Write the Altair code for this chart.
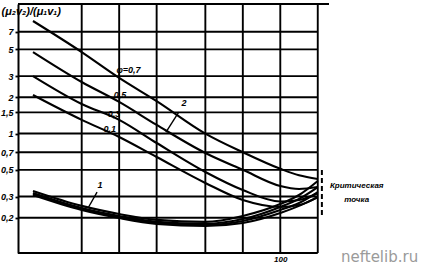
import altair as alt
import pandas as pd

# ---- data ----
x_samples = [34, 47, 57, 67, 80, 90, 100, 105, 110]

# group 2 (upper curves), phi = 0.7, 0.5, 0.3, 0.1
c2_07 = [8.6, 4.75, 2.9, 1.86, 1.0, 0.70, 0.51, 0.45, 0.42]
c2_05 = [4.75, 2.68, 1.83, 1.18, 0.69, 0.50, 0.367, 0.347, 0.36]
c2_03 = [3.0, 1.76, 1.30, 0.835, 0.48, 0.34, 0.273, 0.281, 0.32]
c2_01 = [2.09, 1.30, 0.937, 0.639, 0.389, 0.281, 0.246, 0.255, 0.297]

# group 1 (lower curves)
c1_07 = [0.334, 0.251, 0.215, 0.192, 0.185, 0.207, 0.260, 0.309, 0.404]
c1_05 = [0.321, 0.241, 0.207, 0.185, 0.178, 0.195, 0.246, 0.287, 0.360]
c1_03 = [0.315, 0.237, 0.203, 0.181, 0.174, 0.188, 0.232, 0.265, 0.327]
c1_01 = [0.309, 0.232, 0.199, 0.178, 0.171, 0.181, 0.219, 0.251, 0.297]

y_ticks = [0.2, 0.3, 0.5, 0.7, 1, 1.5, 2, 3, 5, 7]
x_grid = [47, 57, 67, 80, 90, 100, 110]
x_label_values = [100]

X_MIN, X_MAX, X_GRID_END = 30, 113, 110
Y_MIN, Y_MAX = 0.102, 11.9

phi_labels = ["φ=0,7", "0,5", "0,3", "0,1"]
phi_label_x = [59.5, 57.2, 55.6, 54.5]
phi_label_y = [3.37, 2.09, 1.45, 1.09]

group_labels = ["2", "1"]
group_label_x = [74.3, 51.9]
group_label_y = [1.79, 0.374]
leader_x = [72.9, 51.1]
leader_y = [1.51, 0.327]
leader_x2 = [69.5, 48.7]
leader_y2 = [1.03, 0.241]

crit_x = 111.1
crit_y_lo, crit_y_hi = 0.211, 0.518
crit_text = ["Критическая", "точка"]
crit_text_x = [120.4, 120.4]
crit_text_y = [0.367, 0.281]

title_text = "(μ₂v₂)/(μ₁v₁)"
title_x, title_y = 25.6, 10.2

watermark = "neftelib.ru"
wm_x, wm_y = 126.5, 0.094

# ---- build tables ----
curves = {
    "g2_07": c2_07, "g2_05": c2_05, "g2_03": c2_03, "g2_01": c2_01,
    "g1_07": c1_07, "g1_05": c1_05, "g1_03": c1_03, "g1_01": c1_01,
}
rows = []
for name, ys in curves.items():
    for xv, yv in zip(x_samples, ys):
        rows.append({"curve": name, "x": xv, "y": yv})
df_curves = pd.DataFrame(rows)

FONT = "Liberation Sans"

xscale = alt.Scale(domain=[X_MIN, X_MAX], nice=False, zero=False)
yscale = alt.Scale(type="log", domain=[Y_MIN, Y_MAX], nice=False)

xaxis = alt.Axis(values=x_label_values, title="", ticks=False, domain=False,
                 grid=False, labelPadding=2, labelFontSize=8, labelFont=FONT,
                 labelFontStyle="italic", labelFontWeight="bold", labelColor="black")
yaxis = alt.Axis(values=y_ticks, title="", grid=False, tickSize=3,
                 tickWidth=1.8, tickColor="black", domainWidth=2,
                 domainColor="black", labelPadding=2, labelFontSize=9, labelFont=FONT,
                 labelFontStyle="italic", labelFontWeight="bold", labelColor="black",
                 labelExpr="replace(toString(datum.value), '.', ',')")


def X(field):
    return alt.X(field, scale=xscale, axis=xaxis)


def Y(field):
    return alt.Y(field, scale=yscale, axis=yaxis)


lines = alt.Chart(df_curves).mark_line(
    interpolate="monotone", color="black", strokeWidth=2.1
).encode(x=X("x:Q"), y=Y("y:Q"), detail="curve:N")

hgrid = alt.Chart(pd.DataFrame({"v": y_ticks, "a": X_MIN, "b": X_GRID_END})).mark_rule(
    color="black", strokeWidth=1.9
).encode(y=Y("v:Q"), x=X("a:Q"), x2="b:Q")

vgrid = alt.Chart(pd.DataFrame({"v": x_grid, "a": Y_MIN, "b": Y_MAX})).mark_rule(
    color="black", strokeWidth=1.9
).encode(x=X("v:Q"), y=Y("a:Q"), y2="b:Q")

borders = alt.Chart(pd.DataFrame({
    "x": [X_MIN, X_MIN], "x2": [X_MAX, X_GRID_END], "y": [Y_MAX, Y_MIN]
})).mark_rule(color="black", strokeWidth=2).encode(
    x=X("x:Q"), x2="x2:Q", y=Y("y:Q"))

txt_kw = dict(font=FONT, fontStyle="italic", fontWeight="bold",
              align="center", baseline="middle", color="black")

phi_txt = alt.Chart(pd.DataFrame({
    "t": phi_labels, "x": phi_label_x, "y": phi_label_y
})).mark_text(fontSize=9, **txt_kw).encode(x=X("x:Q"), y=Y("y:Q"), text="t:N")

grp_txt = alt.Chart(pd.DataFrame({
    "t": group_labels, "x": group_label_x, "y": group_label_y
})).mark_text(fontSize=9, **txt_kw).encode(x=X("x:Q"), y=Y("y:Q"), text="t:N")

leaders = alt.Chart(pd.DataFrame({
    "x": leader_x, "y": leader_y, "x2": leader_x2, "y2": leader_y2
})).mark_rule(color="black", strokeWidth=1.4).encode(
    x=X("x:Q"), x2="x2:Q", y=Y("y:Q"), y2="y2:Q")

crit_line = alt.Chart(pd.DataFrame({"x": [crit_x], "y": [crit_y_lo], "y2": [crit_y_hi]})).mark_rule(
    color="black", strokeWidth=2, strokeDash=[5, 3]
).encode(x=X("x:Q"), y=Y("y:Q"), y2="y2:Q")

crit_txt = alt.Chart(pd.DataFrame({
    "t": crit_text, "x": crit_text_x, "y": crit_text_y
})).mark_text(fontSize=8, **txt_kw).encode(x=X("x:Q"), y=Y("y:Q"), text="t:N")

title_mark = alt.Chart(pd.DataFrame({"t": [title_text], "x": [title_x], "y": [title_y]})).mark_text(
    font=FONT, fontSize=11, fontStyle="italic", fontWeight="bold",
    align="left", baseline="middle", color="black"
).encode(x=X("x:Q"), y=Y("y:Q"), text="t:N")

wm_mark = alt.Chart(pd.DataFrame({"t": [watermark], "x": [wm_x], "y": [wm_y]})).mark_text(
    font="DejaVu Sans", fontSize=15, color="#9a9a9a",
    align="center", baseline="middle"
).encode(x=X("x:Q"), y=Y("y:Q"), text="t:N")

chart = alt.layer(
    hgrid, vgrid, borders, lines, leaders, crit_line,
    phi_txt, grp_txt, crit_txt, title_mark, wm_mark
).properties(
    width=311, height=249,
    autosize=alt.AutoSizeParams(type="none"),
    padding={"left": 18, "top": 4, "right": 97, "bottom": 12},
    background="white",
).configure_view(stroke=None)

chart.save("out.html", embed_options={"renderer": "svg", "actions": False})
